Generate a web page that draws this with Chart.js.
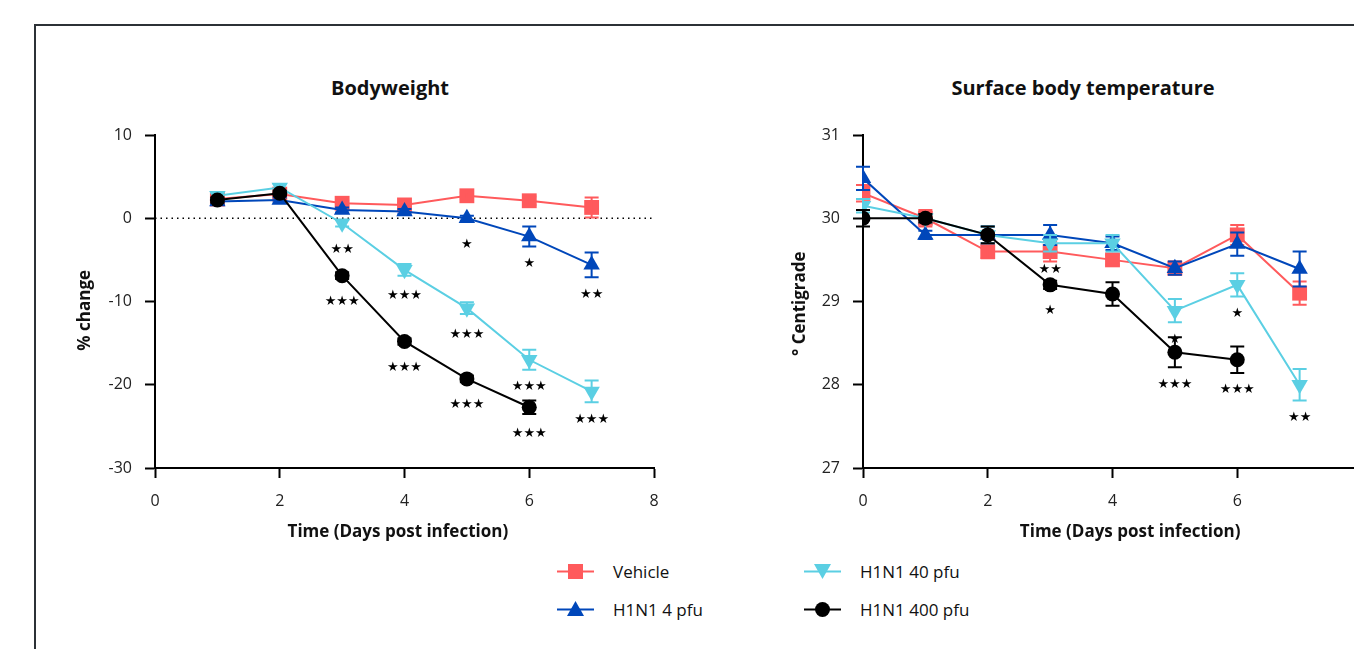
<!DOCTYPE html>
<html>
<head>
<meta charset="utf-8">
<script src="https://cdn.jsdelivr.net/npm/chart.js@4.4.1/dist/chart.umd.min.js"></script>
<style>
  html, body { margin: 0; padding: 0; width: 1354px; height: 649px; overflow: hidden; background: #fff; font-family: "Open Sans", sans-serif; }
  #frame { position: absolute; left: 34px; top: 24px; width: 1400px; height: 700px; border: 2px solid #2c3136; box-sizing: border-box; }
  .cv { position: absolute; top: 0; }
  .title { position: absolute; top: 76px; font-weight: 700; font-size: 20px; line-height: 24px; transform: translateX(-50%); white-space: nowrap; color: #111; }
  .lg { position: absolute; height: 24px; display: flex; align-items: center; font-size: 17px; color: #111; white-space: nowrap; }
  .lg svg { margin-right: 19px; }
</style>
</head>
<body>
<div id="frame"></div>
<div class="title" style="left:390px">Bodyweight</div>
<div class="title" style="left:1083px">Surface body temperature</div>
<canvas id="weight" class="cv" style="left:0px" width="680" height="558"></canvas>
<canvas id="temp" class="cv" style="left:708px" width="680" height="558"></canvas>
<div id="legend"></div>
<script>
// === Series ===
const seriesNames = ['Vehicle', 'H1N1 4 pfu', 'H1N1 40 pfu', 'H1N1 400 pfu'];
const seriesColors = ['#ff5a5c', '#0047ba', '#5bcfe3', '#000000'];
const seriesStyles = ['rect', 'triangle', 'triangle', 'circle'];

// === Bodyweight (% change) ===
const weightDays = [1, 2, 3, 4, 5, 6, 7];
const weightVehicle = [2.3, 2.9, 1.8, 1.6, 2.7, 2.1, 1.3];
const weightVehicleErr = [0.4, 0.4, 0.3, 0.3, 0.4, 0.5, 1.2];
const weight4 = [2.0, 2.2, 1.0, 0.8, 0.0, -2.2, -5.6];
const weight4Err = [0.3, 0.3, 0.3, 0.3, 0.3, 1.2, 1.5];
const weight40 = [2.7, 3.7, -0.6, -6.2, -10.8, -17.0, -20.8];
const weight40Err = [0.4, 0.4, 0.4, 0.7, 0.7, 1.2, 1.3];
const weight400 = [2.2, 3.0, -6.9, -14.8, -19.3, -22.7];
const weight400Err = [0.3, 0.3, 0.4, 0.4, 0.4, 0.8];
const weightSig4 = ['', '', '', '', '*', '*', '**'];
const weightSig40 = ['', '', '**', '***', '***', '***', '***'];
const weightSig400 = ['', '', '***', '***', '***', '***'];

// === Surface body temperature ===
const tempDays = [0, 1, 2, 3, 4, 5, 6, 7];
const tempVehicle = [30.3, 30.0, 29.6, 29.6, 29.5, 29.4, 29.8, 29.1];
const tempVehicleErr = [0.1, 0.1, 0.08, 0.12, 0.06, 0.08, 0.12, 0.14];
const temp4 = [30.48, 29.8, 29.8, 29.8, 29.7, 29.4, 29.69, 29.39];
const temp4Err = [0.14, 0.05, 0.1, 0.12, 0.08, 0.08, 0.14, 0.21];
const temp40 = [30.15, 30.0, 29.8, 29.7, 29.7, 28.89, 29.2, 28.0];
const temp40Err = [0.08, 0.05, 0.1, 0.1, 0.1, 0.14, 0.14, 0.19];
const temp400 = [30.0, 30.0, 29.8, 29.2, 29.09, 28.39, 28.3];
const temp400Err = [0.1, 0.05, 0.1, 0.05, 0.14, 0.18, 0.16];
const tempSig40 = ['', '', '', '**', '', '*', '*', '**'];
const tempSig400 = ['', '', '', '*', '', '***', '***'];

const xTicks = { min: 0, max: 8, step: 2 };
const xTitle = 'Time (Days post infection)';

// === Plugins ===
const errorBars = {
  id: 'errorBars',
  afterDatasetDraw(chart, args) {
    const ds = chart.data.datasets[args.index];
    if (!ds.errors) return;
    const { ctx, scales: { x, y } } = chart;
    ctx.save();
    ctx.strokeStyle = ds.borderColor;
    ctx.lineWidth = 2;
    ds.data.forEach((p, i) => {
      const px = x.getPixelForValue(p.x);
      const top = y.getPixelForValue(p.y + ds.errors[i]);
      const bot = y.getPixelForValue(p.y - ds.errors[i]);
      ctx.beginPath();
      ctx.moveTo(px, top); ctx.lineTo(px, bot);
      ctx.moveTo(px - 7, top); ctx.lineTo(px + 7, top);
      ctx.moveTo(px - 7, bot); ctx.lineTo(px + 7, bot);
      ctx.stroke();
    });
    ctx.restore();
  }
};

const stars = {
  id: 'stars',
  afterDatasetsDraw(chart) {
    const { ctx, scales: { x, y } } = chart;
    ctx.save();
    ctx.fillStyle = '#000';
    ctx.font = '13px "DejaVu Sans"';
    ctx.textAlign = 'center';
    ctx.textBaseline = 'middle';
    chart.data.datasets.forEach(ds => {
      if (!ds.sig) return;
      ds.data.forEach((p, i) => {
        const s = ds.sig[i];
        if (!s) return;
        const px = x.getPixelForValue(p.x);
        const py = y.getPixelForValue(p.y);
        const bot = y.getPixelForValue(p.y - (ds.errors ? ds.errors[i] : 0));
        ctx.fillText(s.replace(/\*/g, '\u2605'), px, Math.max(py + 26, bot + 17));
      });
    });
    ctx.restore();
  }
};

function series(i, days, vals, errs, sig) {
  return {
    label: seriesNames[i],
    data: vals.map((v, k) => ({ x: days[k], y: v })),
    errors: errs,
    sig: sig,
    borderColor: seriesColors[i],
    backgroundColor: seriesColors[i],
    borderWidth: 2,
    pointStyle: seriesStyles[i],
    pointRotation: i === 2 ? 180 : 0,
    pointRadius: i === 0 ? 10.5 : (i === 3 ? 7.5 : 9.5),
    pointBorderWidth: 0,
    pointHoverRadius: 0,
    order: 4 - i
  };
}

function makeChart(id, datasets, yMin, yMax, yStep, yTitle, yTitlePad, xTitleText) {
  return new Chart(document.getElementById(id), {
    type: 'line',
    data: { datasets },
    options: {
      responsive: false,
      animation: false,
      events: [],
      layout: { padding: { top: 135, left: 0, right: 26, bottom: 0 } },
      plugins: { legend: { display: false }, tooltip: { enabled: false } },
      scales: {
        x: {
          type: 'linear', min: xTicks.min, max: xTicks.max,
          ticks: { stepSize: xTicks.step, color: '#222', font: { size: 16, family: 'Open Sans' }, padding: 14 },
          grid: { drawOnChartArea: false, drawTicks: true, tickLength: 10, tickColor: '#000', tickWidth: 2 },
          border: { color: '#000', width: 2 },
          title: { display: true, text: xTitleText, color: '#111',
                   font: { size: 17, weight: 'bold', family: 'Open Sans' }, padding: { top: 0, bottom: 16 } },
          afterFit(s) { s.height = 90; }
        },
        y: {
          min: yMin, max: yMax,
          ticks: { stepSize: yStep, color: '#222', font: { size: 16, family: 'Open Sans' }, padding: 13 },
          grid: { drawOnChartArea: false, drawTicks: true, tickLength: 10, tickColor: '#000', tickWidth: 2 },
          border: { color: '#000', width: 2 },
          title: { display: true, text: yTitle, color: '#111',
                   font: { size: 17, weight: 'bold', family: 'Open Sans' }, padding: { top: yTitlePad, bottom: 0 } },
          afterFit(s) { s.width = 155; }
        }
      }
    },
    plugins: [errorBars, stars]
  });
}

// === Bodyweight chart ===
const zeroLine = {
  label: 'zero',
  data: [{ x: xTicks.min, y: 0 }, { x: xTicks.max, y: 0 }],
  borderColor: '#000', borderWidth: 1.5, borderDash: [1.5, 4],
  pointRadius: 0, order: 10
};
makeChart('weight', [
  zeroLine,
  series(0, weightDays, weightVehicle, weightVehicleErr, null),
  series(1, weightDays, weight4, weight4Err, weightSig4),
  series(2, weightDays, weight40, weight40Err, weightSig40),
  series(3, weightDays, weight400, weight400Err, weightSig400)
], -30, 10, 10, '% change    ', 75, xTitle + '   ');

// === Temperature chart ===
makeChart('temp', [
  series(0, tempDays, tempVehicle, tempVehicleErr, null),
  series(1, tempDays, temp4, temp4Err, null),
  series(2, tempDays, temp40, temp40Err, tempSig40),
  series(3, tempDays, temp400, temp400Err, tempSig400)
], 27, 31, 1, '\u00b0 Centigrade ', 82, '        ' + xTitle);

// === Legend (2 x 2, column first) ===
const legend = document.getElementById('legend');
const symbols = [
  '<rect x="11" y="4" width="15" height="15"/>',
  '<polygon points="18.5,3 27,18 10,18"/>',
  '<polygon points="18.5,19 27,4 10,4"/>',
  '<circle cx="18.5" cy="11.5" r="7.5"/>'
];
seriesNames.forEach((name, i) => {
  const col = Math.floor(i / 2), row = i % 2;
  const d = document.createElement('div');
  d.className = 'lg';
  d.style.left = [557, 804][col] + 'px';
  d.style.top = [559, 597][row] + 'px';
  const c = seriesColors[i];
  d.innerHTML = '<svg width="37" height="23"><line x1="0" y1="11.5" x2="37" y2="11.5" stroke="' + c +
    '" stroke-width="2"/><g fill="' + c + '">' + symbols[i] + '</g></svg><span>' + name + '</span>';
  legend.appendChild(d);
});
</script>
</body>
</html>
